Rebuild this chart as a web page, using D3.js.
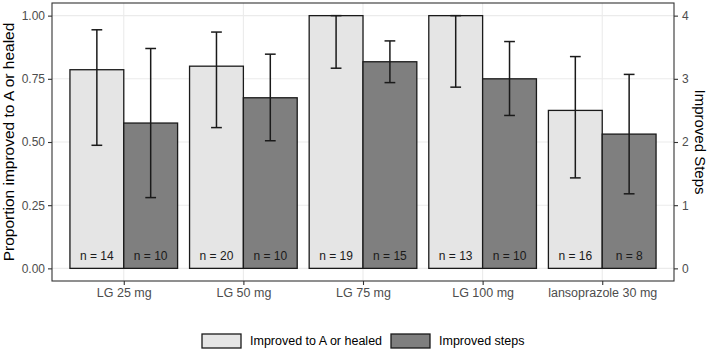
<!DOCTYPE html>
<html>
<head>
<meta charset="utf-8">
<script src="https://cdn.jsdelivr.net/npm/d3@7"></script>
<style>
  body { margin: 0; background: #fff; }
  text { font-family: "Liberation Sans", Arial, sans-serif; }
</style>
</head>
<body>
<div id="viz"></div>
<script>
// groups on the x axis
const categories = ['LG 25 mg', 'LG 50 mg', 'LG 75 mg', 'LG 100 mg', 'lansoprazole 30 mg'];

// proportion improved to A or healed (left axis) with 95% CI
const healed = [0.786, 0.800, 1.000, 1.000, 0.625];
const healedLo = [0.487, 0.557, 0.792, 0.717, 0.358];
const healedHi = [0.944, 0.935, 1.000, 1.000, 0.838];
const healedN = [14, 20, 19, 13, 16];

// mean improved steps (right axis) with 95% CI
const steps = [2.30, 2.70, 3.27, 3.00, 2.125];
const stepsLo = [1.12, 2.02, 2.94, 2.42, 1.18];
const stepsHi = [3.48, 3.39, 3.60, 3.59, 3.07];
const stepsN = [10, 10, 15, 10, 8];

const leftTicks = [0, 0.25, 0.5, 0.75, 1];
const rightTicks = [0, 1, 2, 3, 4];
const seriesNames = ['Improved to A or healed', 'Improved steps'];

const width = 709, height = 351;
const margin = { top: 3, right: 35, bottom: 70, left: 52 };
const lightFill = '#e5e5e5', darkFill = '#7f7f7f';

const svg = d3.select('#viz').append('svg')
  .attr('width', width)
  .attr('height', height);

const x = d3.scalePoint()
  .domain(categories)
  .range([margin.left, width - margin.right])
  .padding(0.6);

const groupWidth = x.step() * 0.9;
const xInner = d3.scaleBand()
  .domain(seriesNames)
  .range([-groupWidth / 2, groupWidth / 2]);

const y = d3.scaleLinear()
  .domain([-0.05, 1.05])
  .range([height - margin.bottom, margin.top]);

const y2 = d3.scaleLinear()
  .domain([-0.2, 4.2])
  .range([height - margin.bottom, margin.top]);

// grid
svg.append('g')
  .selectAll('line.h')
  .data(leftTicks)
  .enter().append('line')
  .attr('x1', margin.left).attr('x2', width - margin.right)
  .attr('y1', d => y(d)).attr('y2', d => y(d))
  .style('stroke', '#ebebeb').style('stroke-width', 1.1);

svg.append('g')
  .selectAll('line.v')
  .data(categories)
  .enter().append('line')
  .attr('x1', d => x(d)).attr('x2', d => x(d))
  .attr('y1', margin.top).attr('y2', height - margin.bottom)
  .style('stroke', '#ebebeb').style('stroke-width', 1.1);

// rows for the two series
const rows = categories.map((c, i) => [
  { cat: c, s: seriesNames[0], top: y(healed[i]), lo: y(healedLo[i]), hi: y(healedHi[i]), n: healedN[i], fill: lightFill },
  { cat: c, s: seriesNames[1], top: y2(steps[i]), lo: y2(stepsLo[i]), hi: y2(stepsHi[i]), n: stepsN[i], fill: darkFill }
]).flat();

const bw = xInner.bandwidth();

svg.append('g')
  .selectAll('rect')
  .data(rows)
  .enter().append('rect')
  .attr('x', d => x(d.cat) + xInner(d.s))
  .attr('width', bw)
  .attr('y', d => d.top)
  .attr('height', d => y(0) - d.top)
  .style('fill', d => d.fill)
  .style('stroke', '#1a1a1a')
  .style('stroke-width', 1.3);

// error bars
const capW = bw * 0.2;
const eb = svg.append('g')
  .selectAll('g')
  .data(rows)
  .enter().append('g')
  .attr('transform', d => `translate(${x(d.cat) + xInner(d.s) + bw / 2},0)`)
  .style('stroke', '#1a1a1a')
  .style('stroke-width', 1.5);

eb.append('line').attr('x1', 0).attr('x2', 0).attr('y1', d => d.lo).attr('y2', d => d.hi);
eb.append('line').attr('x1', -capW / 2).attr('x2', capW / 2).attr('y1', d => d.lo).attr('y2', d => d.lo);
eb.append('line').attr('x1', -capW / 2).attr('x2', capW / 2).attr('y1', d => d.hi).attr('y2', d => d.hi);

// n labels
svg.append('g')
  .selectAll('text')
  .data(rows)
  .enter().append('text')
  .attr('x', d => x(d.cat) + xInner(d.s) + bw / 2)
  .attr('y', y(0.05))
  .attr('dy', '0.35em')
  .attr('text-anchor', 'middle')
  .style('font-size', '12px')
  .style('fill', '#1a1a1a')
  .text(d => 'n = ' + d.n);

// panel border
svg.append('rect')
  .attr('x', margin.left).attr('y', margin.top)
  .attr('width', width - margin.left - margin.right)
  .attr('height', height - margin.top - margin.bottom)
  .style('fill', 'none')
  .style('stroke', '#333')
  .style('stroke-width', 1.1);

// axes
function styleAxis(g) {
  g.select('.domain').remove();
  g.selectAll('.tick line').style('stroke', '#333').style('stroke-width', 1.1);
  g.selectAll('.tick text').style('fill', '#4d4d4d').style('font-size', '12px')
    .style('font-family', '"Liberation Sans", Arial, sans-serif');
}

svg.append('g')
  .attr('transform', `translate(${margin.left},0)`)
  .call(d3.axisLeft(y).tickValues(leftTicks).tickFormat(d3.format('.2f')).tickSize(4).tickPadding(3))
  .call(styleAxis);

svg.append('g')
  .attr('transform', `translate(${width - margin.right},0)`)
  .call(d3.axisRight(y2).tickValues(rightTicks).tickFormat(d3.format('d')).tickSize(4).tickPadding(4))
  .call(styleAxis);

svg.append('g')
  .attr('transform', `translate(0,${height - margin.bottom})`)
  .call(d3.axisBottom(x).tickSize(4).tickPadding(3))
  .call(styleAxis)
  .selectAll('.tick text').style('font-size', '12.5px');

// axis titles
const midY = (margin.top + height - margin.bottom) / 2;
svg.append('text')
  .attr('transform', `translate(14,${midY}) rotate(-90)`)
  .attr('text-anchor', 'middle')
  .style('font-size', '15.5px')
  .style('fill', '#000')
  .text('Proportion improved to A or healed');

svg.append('text')
  .attr('transform', `translate(695,${midY}) rotate(90)`)
  .attr('text-anchor', 'middle')
  .style('font-size', '15px')
  .style('fill', '#000')
  .text('Improved Steps');

// legend
const legendX = [202, 391];
const legend = svg.append('g')
  .selectAll('g')
  .data(seriesNames)
  .enter().append('g')
  .attr('transform', (d, i) => `translate(${legendX[i]},334)`);

legend.append('rect')
  .attr('width', 39).attr('height', 14)
  .style('fill', (d, i) => i === 0 ? lightFill : darkFill)
  .style('stroke', '#1a1a1a')
  .style('stroke-width', 1.3);

legend.append('text')
  .attr('x', 48).attr('y', 7)
  .attr('dy', '0.35em')
  .style('font-size', '12.5px')
  .style('fill', '#000')
  .text(d => d);
</script>
</body>
</html>
